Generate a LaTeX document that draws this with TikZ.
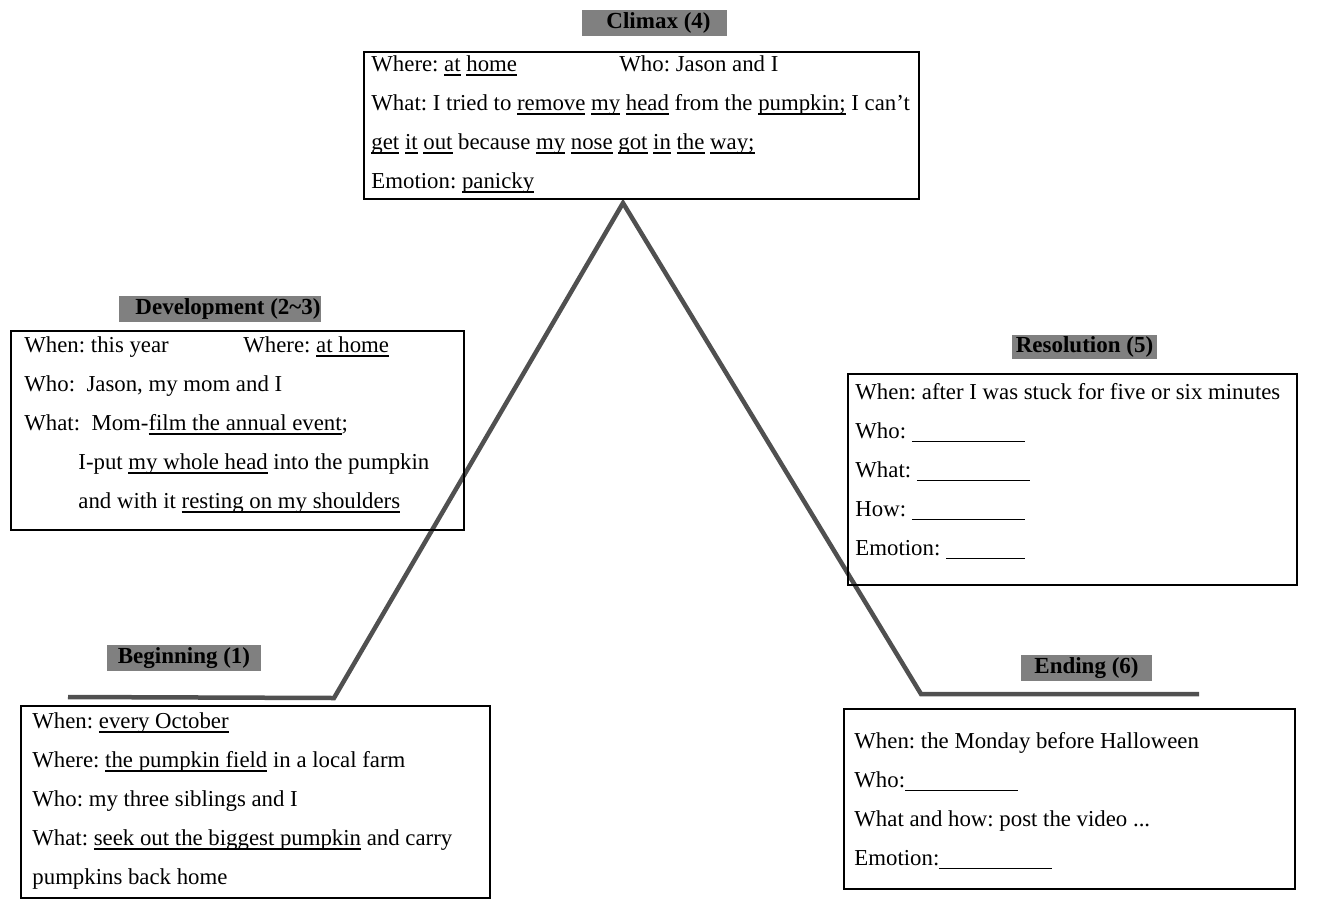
\documentclass[tikz,border=0pt]{standalone}
\usepackage{fontspec}
\setmainfont{Liberation Serif}
\usetikzlibrary{positioning}
\definecolor{PlotGray}{HTML}{505050}
\definecolor{LabelGray}{HTML}{808080}
\newcommand{\uln}[1]{\setbox0\hbox{#1}\leavevmode\rlap{\rule[-4.5pt]{\wd0}{1.4pt}}\box0\relax}
\newcommand{\blank}[1]{\rule[-3pt]{#1}{1pt}}
\frenchspacing

\begin{document}
\begin{tikzpicture}[x=1pt, y=-1pt, font=\fontsize{22.8}{39}\selectfont,
    stage/.style={fill=LabelGray, inner sep=0pt, minimum height=26pt,
      font=\fontsize{23}{26}\selectfont\bfseries},
    panel/.style={draw, line width=1.5pt, inner sep=0pt},
    lines/.style={anchor=north west, align=left, inner sep=0pt}]
  \useasboundingbox (0,0) rectangle (1317,900);

  % The plot line: flat start, rise to the climax, fall, flat end.
  \coordinate (start) at (68,697);
  \coordinate (foot) at (334,698);
  \coordinate (peak) at (623,203);
  \coordinate (base) at (921,694);
  \coordinate (finish) at (1199,694);
  \draw[PlotGray, line width=4.5pt] (start) -- (foot) -- (peak) -- (base) -- (finish);

  % Climax (4)
  \node[stage, minimum width=145pt] (climaxtag) at (654.5,23) {\hspace{8pt}Climax (4)};
  \node[panel, minimum width=555pt, minimum height=147pt] (climax) at (641.5,125.5) {};
  \node[lines] (climaxtext) at ([xshift=8pt, yshift=-4pt]climax.north west)
    {\makebox[248pt][l]{Where: \uln{at} \uln{home}}Who: Jason and I\\
     What: I tried to \uln{remove} \uln{my} \uln{head} from the \uln{pumpkin;} I can’t\\
     \uln{get} \uln{it} \uln{out} because \uln{my} \uln{nose} \uln{got} \uln{in} \uln{the} \uln{way;}\\
     Emotion: \uln{panicky}};

  % Development (2~3)
  \node[stage, minimum width=202pt] (devtag) at (220,309) {\hspace{16pt}Development (2\textasciitilde3)};
  \node[panel, minimum width=453pt, minimum height=199pt] (dev) at (237.5,430.5) {};
  \node[lines] (devtext) at ([xshift=14pt, yshift=-6pt]dev.north west)
    {\makebox[219pt][l]{When: this year}Where: \uln{at home}\\
     Who:\ \ Jason, my mom and I\\
     What:\ \ Mom-\uln{film the annual event};\\
     \hspace*{54pt}I-put \uln{my whole head} into the pumpkin\\
     \hspace*{54pt}and with it \uln{resting on my shoulders}};

  % Resolution (5)
  \node[stage, minimum width=145pt, minimum height=24pt] (restag) at (1084.5,347) {Resolution (5)};
  \node[panel, minimum width=449pt, minimum height=211pt] (res) at (1072.5,479.5) {};
  \node[lines] (restext) at ([xshift=8pt, yshift=-10pt]res.north west)
    {When: after I was stuck for five or six minutes\\
     Who: \blank{113pt}\\
     What: \blank{113pt}\\
     How: \blank{113pt}\\
     Emotion: \blank{79pt}};

  % Beginning (1)
  \node[stage, minimum width=154pt] (begtag) at (184,658) {Beginning (1)\hspace{6pt}};
  \node[panel, minimum width=469pt, minimum height=192pt] (beg) at (255.5,802) {};
  \node[lines] (begtext) at ([xshift=12pt, yshift=-7pt]beg.north west)
    {When: \uln{every October}\\
     Where: \uln{the pumpkin field} in a local farm\\
     Who: my three siblings and I\\
     What: \uln{seek out the biggest pumpkin} and carry\\
     pumpkins back home};

  % Ending (6)
  \node[stage, minimum width=131pt] (endtag) at (1086.5,668) {Ending (6)};
  \node[panel, minimum width=451pt, minimum height=180pt] (end) at (1069.5,799) {};
  \node[lines] (endtext) at ([xshift=11pt, yshift=-24pt]end.north west)
    {When: the Monday before Halloween\\
     Who:\blank{113pt}\\
     What and how: post the video ...\\
     Emotion:\blank{113pt}};
\end{tikzpicture}
\end{document}
